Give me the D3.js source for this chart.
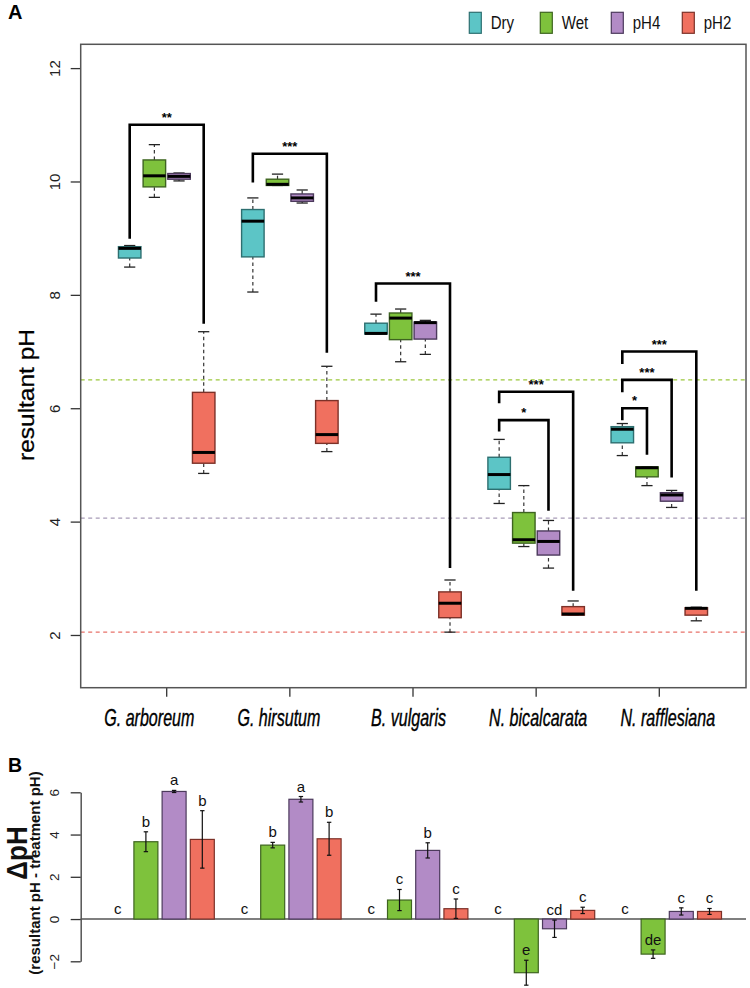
<!DOCTYPE html>
<html lang="en">
<head>
<meta charset="UTF-8">
<title>resultant pH</title>
<script src="https://d3js.org/d3.v7.min.js"></script>
<style>
  body { margin: 0; background: #fff; }
  text { font-family: "Liberation Sans", Arial, Helvetica, sans-serif; }
</style>
</head>
<body>
<svg width="750" height="988"></svg>
<script>
// ---- data ----
const species = ["G. arboreum", "G. hirsutum", "B. vulgaris", "N. bicalcarata", "N. rafflesiana"];
const conditions = ["Dry", "Wet", "pH4", "pH2"];

// box stats per species: [lower whisker, q1, median, q3, upper whisker]
const dryStats = [[8.49, 8.65, 8.82, 8.85, 8.87], [8.05, 8.67, 9.30, 9.505, 9.71], [7.31, 7.31, 7.32, 7.50, 7.66], [4.32, 4.57, 4.83, 5.135, 5.45], [5.165, 5.39, 5.63, 5.675, 5.73]];
const wetStats = [[9.72, 9.905, 10.10, 10.38, 10.65], [9.93, 9.93, 9.95, 10.04, 10.13], [6.82, 7.21, 7.59, 7.68, 7.75], [3.56, 3.62, 3.68, 4.16, 4.635], [4.635, 4.79, 4.95, 4.965, 4.965]];
const pH4Stats = [[10.01, 10.04, 10.09, 10.14, 10.15], [9.62, 9.65, 9.71, 9.78, 9.85], [6.95, 7.22, 7.51, 7.52, 7.55], [3.18, 3.41, 3.65, 3.835, 4.02], [4.25, 4.36, 4.47, 4.51, 4.55]];
const pH2Stats = [[4.85, 5.03, 5.22, 6.28, 7.35], [5.235, 5.38, 5.535, 6.135, 6.74], [2.05, 2.305, 2.56, 2.76, 2.97], [2.35, 2.35, 2.37, 2.50, 2.60], [2.25, 2.35, 2.47, 2.48, 2.49]];

const refLines = [6.5, 4.06, 2.05]; // Wet, pH4, pH2 treatment pH
const refColors = ["#9cc83c", "#a89cb8", "#e8726a"];

// significance brackets (pH units)
const brackets = [
  { sp: "G. arboreum", from: "Dry", to: "pH2", top: 11.0, left: 8.99, right: 7.49, label: "**" },
  { sp: "G. hirsutum", from: "Dry", to: "pH2", top: 10.49, left: 9.98, right: 6.98, label: "***" },
  { sp: "B. vulgaris", from: "Dry", to: "pH2", top: 8.2, left: 7.88, right: 3.18, label: "***" },
  { sp: "N. bicalcarata", from: "Dry", to: "pH2", top: 6.29, left: 6.09, right: 2.78, label: "***" },
  { sp: "N. bicalcarata", from: "Dry", to: "pH4", top: 5.79, left: 5.59, right: 4.19, label: "*" },
  { sp: "N. rafflesiana", from: "Dry", to: "pH2", top: 7.0, left: 6.78, right: 2.78, label: "***" },
  { sp: "N. rafflesiana", from: "Dry", to: "pH4", top: 6.5, left: 6.28, right: 4.78, label: "***" },
  { sp: "N. rafflesiana", from: "Dry", to: "Wet", top: 6.0, left: 5.79, right: 5.18, label: "*" }
];

// panel B: delta pH (resultant - treatment), mean and se
const deltaDry = [0, 0, 0, 0, 0];
const deltaWet = [3.66, 3.50, 0.90, -2.54, -1.66];
const deltaPH4 = [6.04, 5.67, 3.25, -0.46, 0.36];
const deltaPH2 = [3.77, 3.80, 0.49, 0.41, 0.36];
const seDry = [0, 0, 0, 0, 0];
const seWet = [0.47, 0.13, 0.50, 0.59, 0.20];
const sePH4 = [0.05, 0.13, 0.36, 0.41, 0.17];
const sePH2 = [1.36, 0.78, 0.46, 0.15, 0.14];
const lettersDry = ["c", "c", "c", "c", "c"];
const lettersWet = ["b", "b", "c", "e", "de"];
const lettersPH4 = ["a", "a", "b", "cd", "c"];
const lettersPH2 = ["b", "b", "c", "c", "c"];

const ticksA = [2, 4, 6, 8, 10, 12];
const ticksB = [-2, 0, 2, 4, 6];

// ---- styles ----
const fill = { Dry: "#5cc5c6", Wet: "#7ec23c", pH4: "#b28bc6", pH2: "#f0705f" };
const edge = { Dry: "#2d6f70", Wet: "#3e6420", pH4: "#4c3a5c", pH2: "#7c3128" };

const svg = d3.select("svg");

// ================= panel A =================
const A = { left: 80.7, right: 746, top: 44.3, bottom: 687.7 };

const yA = d3.scaleLinear().domain([1.07, 12.42]).range([A.bottom, A.top]);
const xA = d3.scalePoint().domain(species).range([166.7, 659.3]);
const offA = d3.scalePoint().domain(conditions).range([-37, 37]);
const labelX = d3.scalePoint().domain(species).range([149.3, 667.8]);
const boxW = 22.5;

svg.append("text").attr("x", 8).attr("y", 18.5)
  .attr("font-size", 20).attr("font-weight", "bold").text("A");

// reference lines
svg.append("g").selectAll("line").data(refLines).join("line")
  .attr("x1", A.left).attr("x2", A.right)
  .attr("y1", d => yA(d)).attr("y2", d => yA(d))
  .attr("stroke", (d, i) => refColors[i]).attr("stroke-width", 1.2)
  .attr("stroke-dasharray", "4,3.5");

// y axis
const axA = svg.append("g").attr("transform", `translate(${A.left},0)`)
  .call(d3.axisLeft(yA).tickValues(ticksA).tickSize(10).tickSizeOuter(0).tickPadding(0));
axA.select(".domain").remove();
axA.selectAll(".tick line").attr("stroke", "#333").attr("stroke-width", 1.3);
axA.selectAll(".tick text")
  .attr("x", null).attr("dy", null).attr("text-anchor", "middle")
  .attr("transform", "translate(-21,0) rotate(-90)")
  .attr("font-size", 15).attr("fill", "#222")
  .style("font-family", '"Liberation Sans", Arial, sans-serif');

svg.append("text")
  .attr("transform", `translate(34,395) scale(0.9,1) rotate(-90)`)
  .attr("text-anchor", "middle").attr("font-size", 24.5).attr("fill", "#000")
  .attr("stroke", "#000").attr("stroke-width", 0.3)
  .text("resultant pH");

// x axis ticks
svg.append("g").selectAll("line").data(species).join("line")
  .attr("x1", d => xA(d)).attr("x2", d => xA(d))
  .attr("y1", A.bottom).attr("y2", A.bottom + 9)
  .attr("stroke", "#333").attr("stroke-width", 1.3);

svg.append("g").selectAll("text").data(species).join("text")
  .attr("transform", d => `translate(${labelX(d)},726) scale(0.67,1)`)
  .attr("text-anchor", "middle").attr("font-size", 24).attr("font-style", "italic")
  .attr("fill", "#000").attr("stroke", "#000").attr("stroke-width", 0.4)
  .text(d => d);

// boxes
const statsByCond = { Dry: dryStats, Wet: wetStats, pH4: pH4Stats, pH2: pH2Stats };
const boxData = [];
species.forEach((sp, i) => conditions.forEach(c => boxData.push({ sp, c, s: statsByCond[c][i] })));

const boxes = svg.append("g").selectAll("g").data(boxData).join("g")
  .attr("transform", d => `translate(${xA(d.sp) + offA(d.c)},0)`);

boxes.append("line")
  .attr("y1", d => yA(d.s[0])).attr("y2", d => yA(d.s[1]))
  .attr("stroke", "#333").attr("stroke-width", 1.2).attr("stroke-dasharray", "3.5,3");
boxes.append("line")
  .attr("y1", d => yA(d.s[3])).attr("y2", d => yA(d.s[4]))
  .attr("stroke", "#333").attr("stroke-width", 1.2).attr("stroke-dasharray", "3.5,3");
boxes.selectAll(".cap").data(d => [d.s[0], d.s[4]]).join("line").attr("class", "cap")
  .attr("x1", -5.6).attr("x2", 5.6).attr("y1", v => yA(v)).attr("y2", v => yA(v))
  .attr("stroke", "#222").attr("stroke-width", 1.3);
boxes.append("rect")
  .attr("x", -boxW / 2).attr("width", boxW)
  .attr("y", d => yA(d.s[3])).attr("height", d => yA(d.s[1]) - yA(d.s[3]))
  .attr("fill", d => fill[d.c]).attr("stroke", d => edge[d.c]).attr("stroke-width", 1.4);
boxes.append("line")
  .attr("x1", -boxW / 2).attr("x2", boxW / 2)
  .attr("y1", d => yA(d.s[2])).attr("y2", d => yA(d.s[2]))
  .attr("stroke", "#000").attr("stroke-width", 3);

// brackets
const br = svg.append("g").selectAll("g").data(brackets).join("g");
br.append("path")
  .attr("d", d => {
    const x1 = xA(d.sp) + offA(d.from), x2 = xA(d.sp) + offA(d.to);
    return `M${x1},${yA(d.left)}V${yA(d.top)}H${x2}V${yA(d.right)}`;
  })
  .attr("fill", "none").attr("stroke", "#000").attr("stroke-width", 2.6);
br.append("text")
  .attr("x", d => xA(d.sp) + (offA(d.from) + offA(d.to)) / 2)
  .attr("y", d => yA(d.top) - 3)
  .attr("text-anchor", "middle").attr("font-size", 13).attr("font-weight", "bold")
  .text(d => d.label);

// frame
svg.append("rect").attr("x", A.left).attr("y", A.top)
  .attr("width", A.right - A.left).attr("height", A.bottom - A.top)
  .attr("fill", "none").attr("stroke", "#555").attr("stroke-width", 1.5);

// legend
const leg = svg.append("g").selectAll("g").data(conditions).join("g")
  .attr("transform", (d, i) => `translate(${469.3 + i * 71},12.3)`);
leg.append("rect").attr("width", 12).attr("height", 21)
  .attr("fill", d => fill[d]).attr("stroke", d => edge[d]).attr("stroke-width", 1.2);
leg.append("text").attr("transform", "translate(21.4,17) scale(0.86,1)")
  .attr("font-size", 17.5).attr("fill", "#111").text(d => d);

// ================= panel B =================
const B = { left: 80.7, right: 746 };
const yB = d3.scaleLinear().domain([-2, 6]).range([961.3, 792.3]);
const xB = d3.scaleBand().domain(species).range([105.7, 721.5]).paddingInner(0.1435).paddingOuter(0);
const inB = d3.scaleBand().domain(conditions).range([0, xB.bandwidth()]).paddingInner(0.15).paddingOuter(0);

svg.append("text").attr("x", 8).attr("y", 771.7)
  .attr("font-size", 19.5).attr("font-weight", "bold").text("B");

svg.append("line").attr("x1", B.left).attr("x2", B.right)
  .attr("y1", yB(0)).attr("y2", yB(0)).attr("stroke", "#555").attr("stroke-width", 1.5);

const axB = svg.append("g").attr("transform", `translate(${B.left},0)`)
  .call(d3.axisLeft(yB).tickValues(ticksB).tickSize(10).tickSizeOuter(0).tickPadding(0)
    .tickFormat(d => d < 0 ? "\u2212" + Math.abs(d) : d));
axB.select(".domain").attr("stroke", "#555").attr("stroke-width", 1.5);
axB.selectAll(".tick line").attr("stroke", "#333").attr("stroke-width", 1.3);
axB.selectAll(".tick text")
  .attr("x", null).attr("dy", null).attr("text-anchor", "middle")
  .attr("transform", "translate(-21.5,0) rotate(-90)")
  .attr("font-size", 13.5).attr("fill", "#222")
  .style("font-family", '"Liberation Sans", Arial, sans-serif');

svg.append("text")
  .attr("transform", "translate(27,853) scale(1.12,1) rotate(-90)")
  .attr("text-anchor", "middle").attr("font-size", 26).attr("font-weight", "bold")
  .attr("fill", "#111").text("\u0394pH");
svg.append("text")
  .attr("transform", "translate(40,873) rotate(-90)")
  .attr("text-anchor", "middle").attr("font-size", 15).attr("font-weight", "bold")
  .attr("fill", "#111").text("(resultant pH - treatment pH)");

const deltaByCond = { Dry: deltaDry, Wet: deltaWet, pH4: deltaPH4, pH2: deltaPH2 };
const seByCond = { Dry: seDry, Wet: seWet, pH4: sePH4, pH2: sePH2 };
const lettersByCond = { Dry: lettersDry, Wet: lettersWet, pH4: lettersPH4, pH2: lettersPH2 };
const barData = [];
species.forEach((sp, i) => conditions.forEach(c => barData.push({
  sp, c, v: deltaByCond[c][i], se: seByCond[c][i], letter: lettersByCond[c][i]
})));

const bars = svg.append("g").selectAll("g").data(barData).join("g")
  .attr("transform", d => `translate(${xB(d.sp) + inB(d.c)},0)`);
const bw = inB.bandwidth();

bars.filter(d => d.v !== 0).append("rect")
  .attr("x", 0).attr("width", bw)
  .attr("y", d => yB(Math.max(0, d.v)))
  .attr("height", d => Math.abs(yB(d.v) - yB(0)))
  .attr("fill", d => fill[d.c]).attr("stroke", d => edge[d.c]).attr("stroke-width", 1.2);

const err = bars.filter(d => d.se > 0);
err.append("line").attr("x1", bw / 2).attr("x2", bw / 2)
  .attr("y1", d => yB(d.v - d.se)).attr("y2", d => yB(d.v + d.se))
  .attr("stroke", "#111").attr("stroke-width", 1.2);
err.selectAll(".cap").data(d => [d.v - d.se, d.v + d.se]).join("line").attr("class", "cap")
  .attr("x1", bw / 2 - 2.2).attr("x2", bw / 2 + 2.2)
  .attr("y1", v => yB(v)).attr("y2", v => yB(v))
  .attr("stroke", "#111").attr("stroke-width", 1.2);

bars.append("text")
  .attr("x", bw / 2).attr("y", d => yB(d.v + d.se) - 5)
  .attr("text-anchor", "middle").attr("font-size", 15).attr("fill", "#111")
  .text(d => d.letter);
</script>
</body>
</html>
